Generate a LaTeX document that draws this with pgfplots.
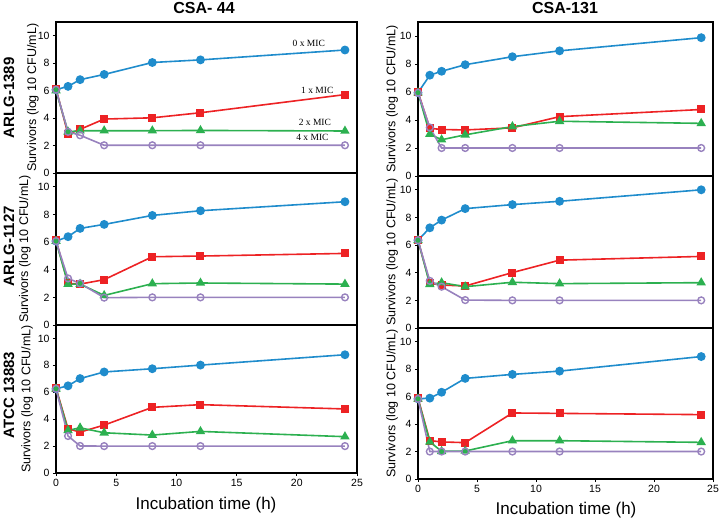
\documentclass[border=0pt]{standalone}
\usepackage{fontspec}
\setmainfont{Liberation Sans}
\newfontfamily\micfont{Liberation Serif}
\usepackage{pgfplots}
\pgfplotsset{compat=1.18}
\definecolor{cblue}{RGB}{31,140,204}
\definecolor{cred}{RGB}{237,34,36}
\definecolor{cgreen}{RGB}{44,176,80}
\definecolor{cpurple}{RGB}{152,130,190}
\pgfplotsset{
  panel/.style={scale only axis, xmin=0, xmax=25, ymin=0, ymax=11,
    ytick={0,2,4,6,8,10}, xtick={0,5,10,15,20,25},
    tick align=outside, tick pos=left, major tick length=3pt,
    axis line style={line width=1.5pt}, tick style={black, line width=0.7pt},
    yticklabel style={font=\fontsize{10.5}{11}\selectfont},
    xticklabel style={font=\fontsize{10.5}{11}\selectfont},
    /pgf/number format/assume math mode=true,
    ylabel={Survivors (log 10 CFU/mL)},
    ylabel style={font=\fontsize{12.5}{13}\selectfont, anchor=center, rotate=0},
  },
  sblue/.style={color=cblue, line width=1.6pt, mark=*, mark size=3.6pt, mark options={fill=cblue, solid}},
  sred/.style={color=cred, line width=1.6pt, mark=square*, mark size=3.2pt, mark options={fill=cred, solid}},
  sgreen/.style={color=cgreen, line width=1.6pt, mark=triangle*, mark size=3.9pt, mark options={fill=cgreen, solid}},
  spurple/.style={color=cpurple, line width=1.6pt, mark=o, mark size=3.4pt, mark options={fill=white, solid, line width=1.4pt}},
}
\begin{document}
\begin{tikzpicture}
\useasboundingbox (0,0) rectangle (720pt,520pt);
% ---------- left column: CSA-44 ----------
\begin{axis}[panel, at={(56pt,347pt)}, anchor=south west, width=301pt, height=151pt, xtick=\empty,
  ylabel style={at={(axis description cs:-0.077,0.5)}}]
\addplot[sblue] coordinates {(0,6.07)(1,6.31)(2,6.8)(4,7.18)(8,8.05)(12,8.24)(24,8.96)};
\addplot[sred] coordinates {(0,6.14)(1,2.82)(2,3.18)(4,3.93)(8,4.02)(12,4.39)(24,5.71)};
\addplot[sgreen] coordinates {(0,6.0)(1,3.0)(2,3.08)(4,3.08)(8,3.08)(12,3.1)(24,3.06)};
\addplot[spurple] coordinates {(0,6.07)(1,3.0)(2,2.75)(4,2.02)(8,2.02)(12,2.02)(24,2.02)};
\node[font=\micfont\fontsize{9.5}{10}\selectfont] at (axis cs:21.0,9.42) {0 x MIC};
\node[font=\micfont\fontsize{9.5}{10}\selectfont] at (axis cs:21.7,6.02) {1 x MIC};
\node[font=\micfont\fontsize{9.5}{10}\selectfont] at (axis cs:21.5,3.72) {2 x MIC};
\node[font=\micfont\fontsize{9.5}{10}\selectfont] at (axis cs:21.3,2.56) {4 x MIC};
\end{axis}
\begin{axis}[panel, at={(56pt,195pt)}, anchor=south west, width=301pt, height=152pt, xtick=\empty,
  ylabel style={at={(axis description cs:-0.103,0.5)}}]
\addplot[sblue] coordinates {(0,6.07)(1,6.39)(2,6.99)(4,7.28)(8,7.93)(12,8.27)(24,8.92)};
\addplot[sred] coordinates {(0,6.14)(1,3.01)(2,2.96)(4,3.28)(8,4.94)(12,4.99)(24,5.18)};
\addplot[sgreen] coordinates {(0,6.07)(1,2.96)(2,2.96)(4,2.14)(8,2.99)(12,3.04)(24,2.96)};
\addplot[spurple] coordinates {(0,6.07)(1,3.37)(2,3.01)(4,1.98)(8,2.0)(12,2.0)(24,2.0)};
\end{axis}
\begin{axis}[panel, at={(56pt,47pt)}, anchor=south west, width=301pt, height=148pt,
  ylabel style={at={(axis description cs:-0.096,0.5)}}]
\addplot[sblue] coordinates {(0,6.26)(1,6.48)(2,7.02)(4,7.51)(8,7.75)(12,8.02)(24,8.79)};
\addplot[sred] coordinates {(0,6.31)(1,3.29)(2,3.04)(4,3.56)(8,4.88)(12,5.08)(24,4.76)};
\addplot[sgreen] coordinates {(0,6.26)(1,3.17)(2,3.36)(4,2.99)(8,2.82)(12,3.09)(24,2.70)};
\addplot[spurple] coordinates {(0,6.26)(1,2.75)(2,2.01)(4,2.0)(8,2.0)(12,2.0)(24,2.0)};
\end{axis}
% ---------- right column: CSA-131 ----------
\begin{axis}[panel, at={(418pt,344pt)}, anchor=south west, width=295pt, height=154pt, xtick=\empty,
  ylabel style={at={(axis description cs:-0.088,0.5)}}]
\addplot[sblue] coordinates {(0,5.95)(1,7.2)(2,7.48)(4,7.95)(8,8.52)(12,8.94)(24,9.88)};
\addplot[sred] coordinates {(0,6.0)(1,3.41)(2,3.32)(4,3.29)(8,3.44)(12,4.24)(24,4.75)};
\addplot[sgreen] coordinates {(0,5.95)(1,2.99)(2,2.59)(4,2.94)(8,3.53)(12,3.91)(24,3.76)};
\addplot[spurple] coordinates {(0,5.95)(1,3.46)(2,2.0)(4,2.0)(8,2.0)(12,2.0)(24,2.0)};
\end{axis}
\begin{axis}[panel, at={(418pt,192pt)}, anchor=south west, width=295pt, height=152pt, xtick=\empty,
  ylabel style={at={(axis description cs:-0.088,0.5)}}]
\addplot[sblue] coordinates {(0,6.35)(1,7.25)(2,7.81)(4,8.64)(8,8.93)(12,9.17)(24,10.0)};
\addplot[sred] coordinates {(0,6.35)(1,3.24)(2,3.11)(4,3.04)(8,4.01)(12,4.91)(24,5.18)};
\addplot[sgreen] coordinates {(0,6.35)(1,3.16)(2,3.28)(4,2.99)(8,3.31)(12,3.21)(24,3.28)};
\addplot[spurple] coordinates {(0,6.35)(1,3.41)(2,2.99)(4,2.02)(8,2.0)(12,2.0)(24,2.0)};
\end{axis}
\begin{axis}[panel, at={(418pt,41pt)}, anchor=south west, width=295pt, height=151pt,
  ylabel style={at={(axis description cs:-0.088,0.5)}}]
\addplot[sblue] coordinates {(0,5.84)(1,5.89)(2,6.32)(4,7.33)(8,7.62)(12,7.86)(24,8.92)};
\addplot[sred] coordinates {(0,5.89)(1,2.8)(2,2.7)(4,2.65)(8,4.81)(12,4.78)(24,4.69)};
\addplot[sgreen] coordinates {(0,5.84)(1,2.7)(2,2.02)(4,2.04)(8,2.79)(12,2.79)(24,2.67)};
\addplot[spurple] coordinates {(0,5.84)(1,2.0)(2,2.0)(4,2.0)(8,2.0)(12,2.0)(24,2.0)};
\end{axis}
% ---------- titles and labels ----------
\node[font=\bfseries\fontsize{16}{18}\selectfont] at (204pt,512pt) {CSA- 44};
\node[font=\bfseries\fontsize{16}{18}\selectfont] at (565pt,512pt) {CSA-131};
\node[font=\bfseries\fontsize{15}{17}\selectfont, rotate=90] at (9pt,422pt) {ARLG-1389};
\node[font=\bfseries\fontsize{15}{17}\selectfont, rotate=90] at (9pt,274pt) {ARLG-1127};
\node[font=\bfseries\fontsize{15}{17}\selectfont, rotate=90] at (9pt,125pt) {ATCC 13883};
\node[font=\fontsize{17}{19}\selectfont] at (206pt,15pt) {Incubation time (h)};
\node[font=\fontsize{17}{19}\selectfont] at (566pt,10pt) {Incubation time (h)};
\end{tikzpicture}
\end{document}
